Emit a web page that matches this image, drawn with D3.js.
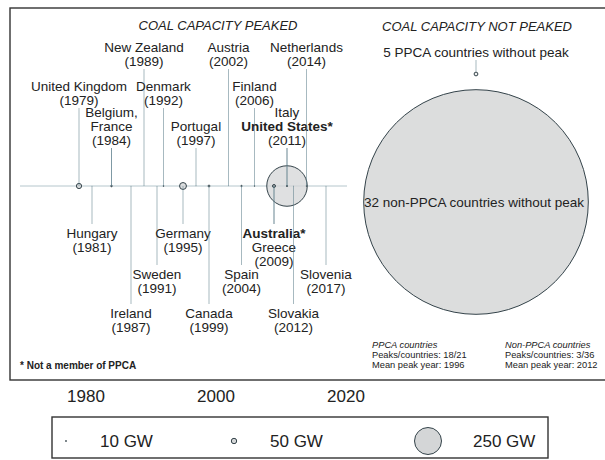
<!DOCTYPE html>
<html>
<head>
<meta charset="utf-8">
<script src="https://cdn.jsdelivr.net/npm/d3@7"></script>
<style>
  body { margin: 0; background: #fff; }
  svg { font-family: "Liberation Sans", Arial, sans-serif; }
  text { fill: #222; }
</style>
</head>
<body>
<svg width="605" height="460"></svg>
<script>
// peaked countries: name, peak year, capacity at peak (GW)
var countries = ["United Kingdom", "Hungary", "Belgium", "France", "Ireland", "New Zealand", "Sweden",
  "Denmark", "Germany", "Portugal", "Canada", "Austria", "Spain", "Finland", "Australia", "Greece",
  "Italy", "United States", "Slovakia", "Netherlands", "Slovenia"];
var peakYear = [1979, 1981, 1984, 1984, 1987, 1989, 1991, 1992, 1995, 1997, 1999, 2002, 2004, 2006,
  2009, 2009, 2011, 2011, 2012, 2014, 2017];
var peakGW = [48, 1.5, 5, 14, 1.3, 1, 0.5, 8, 64, 1.8, 17, 1.5, 12, 6, 28, 5, 12, 375, 2, 7, 1.2];

// label groups (lines of text) and the year they point at
var labelLines = [["United Kingdom"], ["Hungary"], ["Belgium,", "France"], ["Ireland"], ["New Zealand"],
  ["Sweden"], ["Denmark"], ["Germany"], ["Portugal"], ["Canada"], ["Austria"], ["Spain"], ["Finland"],
  ["Australia*", "Greece"], ["Italy", "United States*"], ["Slovakia"], ["Netherlands"], ["Slovenia"]];
var labelYear = [1979, 1981, 1984, 1987, 1989, 1991, 1992, 1995, 1997, 1999, 2002, 2004, 2006, 2009, 2011, 2012, 2014, 2017];
var nonMembers = ["Australia*", "United States*"];

// not peaked
var notPeakedLabels = ["5 PPCA countries without peak", "32 non-PPCA countries without peak"];
var notPeakedGW = [35, 2080];

var statGroups = ["PPCA countries", "Non-PPCA countries"];
var statPeaks = ["18/21", "3/36"];
var statMeanYear = [1996, 2012];

var legendGW = [10, 50, 250];
var axisYears = [1980, 2000, 2020];

// layout: label tiers (negative = above the axis, positive = below)
var labelTier = [-2, 1, -3, 3, -1, 2, -2, 1, -3, 3, -1, 2, -2, 1, -3, 3, -1, 2];

var svg = d3.select("svg");
var axisY = 186;

var x = d3.scaleLinear().domain([1980, 2020]).range([85.5, 345.5]);
var r = d3.scaleLinear().domain([0, 250]).range([0, 13.5]);

var lineColor = "#5f7f8c", circStroke = "#34434a", circFill = "#d4d6d7";

// frame
svg.append("rect").attr("x", 10).attr("y", 8).attr("width", 640).attr("height", 372)
  .attr("fill", "none").attr("stroke", "#333").attr("stroke-width", 1.4);

svg.append("text").attr("x", 218).attr("y", 30).attr("text-anchor", "middle")
  .style("font-size", "13px").style("font-style", "italic").text("COAL CAPACITY PEAKED");
svg.append("text").attr("x", 477).attr("y", 31).attr("text-anchor", "middle")
  .style("font-size", "13px").style("font-style", "italic").text("COAL CAPACITY NOT PEAKED");

// timeline
svg.append("line").attr("x1", 20).attr("x2", 347).attr("y1", axisY).attr("y2", axisY)
  .attr("stroke", "#b5c6cc").attr("stroke-width", 1);

// bubbles, big ones first
var idx = d3.range(countries.length).sort(function(a, b) { return peakGW[b] - peakGW[a]; });
svg.append("g").selectAll("circle").data(idx).enter().append("circle")
  .attr("cx", function(i) { return x(peakYear[i]); })
  .attr("cy", axisY)
  .attr("r", function(i) { return r(peakGW[i]); })
  .attr("fill", circFill).attr("fill-opacity", 0.75)
  .attr("stroke", circStroke)
  .attr("stroke-width", function(i) { return Math.min(1, r(peakGW[i]) * 3); });

// labels + leader lines
var fs = 13.5, lh = 14;
var topYear = { "-1": 61, "-2": 100, "-3": 140 };
var botFirst = { "1": 233, "2": 274, "3": 313 };

labelLines.forEach(function(lines, k) {
  var t = labelTier[k], cx = x(labelYear[k]);
  var all = lines.concat(["(" + labelYear[k] + ")"]);
  var y0, ly1, ly2;
  if (t < 0) {
    var yy = topYear[t];
    y0 = yy - (all.length - 1) * lh;
    ly1 = yy + 8; ly2 = axisY;
  } else {
    y0 = botFirst[t];
    ly1 = axisY; ly2 = y0 - 9;
  }
  // one leader per country so shared years overlap darker
  var n = peakYear.filter(function(y) { return y === labelYear[k]; }).length;
  for (var j = 0; j < n; j++) {
    svg.append("line").attr("x1", cx).attr("x2", cx).attr("y1", ly1).attr("y2", ly2)
      .attr("stroke", lineColor).attr("stroke-opacity", 0.55).attr("stroke-width", 1);
  }
  var txt = svg.append("text").attr("text-anchor", "middle").style("font-size", fs + "px");
  all.forEach(function(s, m) {
    txt.append("tspan").attr("x", cx).attr("y", y0 + m * lh).attr("dominant-baseline", "central")
      .style("font-weight", nonMembers.indexOf(s) >= 0 ? "bold" : null).text(s);
  });
});

// not peaked bubbles
var npX = 476;
var npY = [74, 202];
svg.append("line").attr("x1", npX).attr("x2", npX).attr("y1", 60).attr("y2", npY[0] - r(notPeakedGW[0]) - 0.5)
  .attr("stroke", lineColor).attr("stroke-opacity", 0.55);
svg.selectAll("circle.np").data(notPeakedGW).enter().append("circle").attr("class", "np")
  .attr("cx", npX).attr("cy", function(d, i) { return npY[i]; })
  .attr("r", function(d) { return r(d); })
  .attr("fill", function(d, i) { return i ? "#dcdddd" : circFill; })
  .attr("fill-opacity", function(d, i) { return i ? 1 : 0.4; })
  .attr("stroke", circStroke).attr("stroke-width", 1);
svg.append("text").attr("x", npX).attr("y", 52).attr("text-anchor", "middle").attr("dominant-baseline", "central")
  .style("font-size", fs + "px").text(notPeakedLabels[0]);
svg.append("text").attr("x", 474).attr("y", npY[1]).attr("text-anchor", "middle").attr("dominant-baseline", "central")
  .style("font-size", fs + "px").text(notPeakedLabels[1]);

// stats
var statX = [372, 505];
statGroups.forEach(function(g, i) {
  var t = svg.append("text").style("font-size", "9.3px");
  t.append("tspan").attr("x", statX[i]).attr("y", 345).attr("dominant-baseline", "central")
    .style("font-style", "italic").text(g);
  t.append("tspan").attr("x", statX[i]).attr("y", 355).attr("dominant-baseline", "central")
    .text("Peaks/countries: " + statPeaks[i]);
  t.append("tspan").attr("x", statX[i]).attr("y", 365).attr("dominant-baseline", "central")
    .text("Mean peak year: " + statMeanYear[i]);
});

svg.append("text").attr("x", 20).attr("y", 365).attr("dominant-baseline", "central")
  .style("font-size", "10px").style("font-weight", "bold").text("* Not a member of PPCA");

// year axis under the frame
var ax = svg.append("g").attr("transform", "translate(0,387)")
  .call(d3.axisBottom(x).tickValues(axisYears).tickFormat(d3.format("d")).tickSize(0).tickPadding(3));
ax.select(".domain").remove();
ax.selectAll("text").style("font-size", "17px").style("font-family", "Liberation Sans, Arial, sans-serif").attr("fill", "#222");

// size legend
svg.append("rect").attr("x", 52).attr("y", 417).attr("width", 496).attr("height", 41)
  .attr("fill", "none").attr("stroke", "#333").attr("stroke-width", 1.4);
var legX = [66, 234, 428];
var legTextX = [100, 270, 473];
legendGW.forEach(function(g, i) {
  svg.append("circle").attr("cx", legX[i]).attr("cy", 441).attr("r", r(g))
    .attr("fill", circFill).attr("stroke", circStroke).attr("stroke-width", Math.min(1, r(g) * 3));
  svg.append("text").attr("x", legTextX[i]).attr("y", 441).attr("dominant-baseline", "central")
    .style("font-size", "17px").text(g + " GW");
});
</script>
</body>
</html>
